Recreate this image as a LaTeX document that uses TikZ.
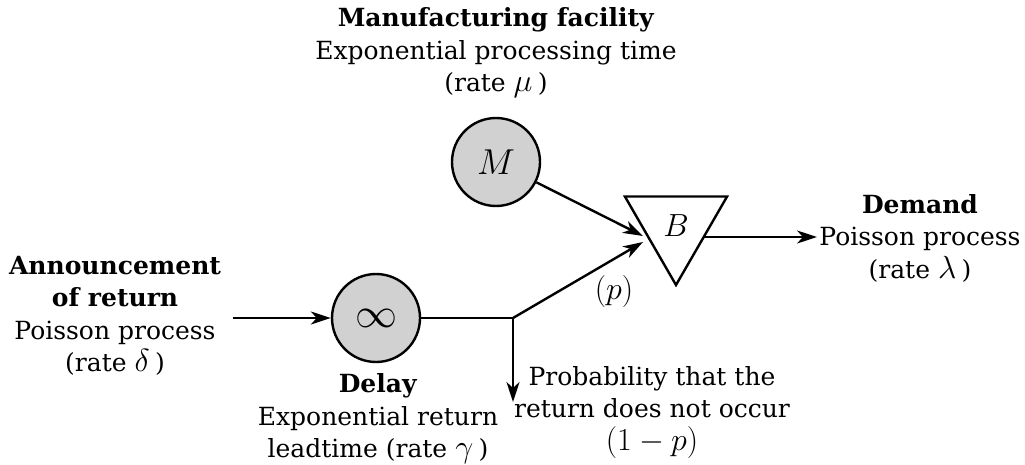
\RequirePackage{fix-cm}
\documentclass[tikz,border=0pt]{standalone}
\usepackage{fontspec}
\setmainfont{DejaVu Serif}
\usetikzlibrary{arrows.meta,shapes.geometric}
\newcommand\mymath[1]{{\fontsize{32}{32.5}\selectfont$#1$}}
\tikzset{
  txt/.style={align=center,inner sep=0pt,font=\fontsize{25}{32.5}\selectfont},
  station/.style={circle,draw,line width=2.4pt,fill=black!18,minimum size=88pt,inner sep=0pt},
  conn/.style={line width=2.4pt},
  arr/.style={conn,-{Stealth[length=20pt,width=13pt,inset=6pt]}},
}
\begin{document}
\begin{tikzpicture}[x=1pt,y=-1pt]
\useasboundingbox (0,0) rectangle (1025,465);
% stations
\node[station,font=\fontsize{36}{40}\selectfont] (M) at (496,162) {$M$};
\node[station,font=\fontsize{42}{44}\selectfont] (inf) at (376,318) {$\infty$};
\node[regular polygon,regular polygon sides=3,shape border rotate=180,draw,line width=2.4pt,minimum size=118pt,inner sep=0pt] (B) at (676,226) {};
\node[font=\fontsize{32}{40}\selectfont] (Blab) at (676,226) {$B$};
% coordinates
\coordinate (inA) at (233,318);
\coordinate (br) at (513,318);
\coordinate (down) at (513,402);
\coordinate (bin1) at (643,236);
\coordinate (bin2) at (643,242);
\coordinate (bout) at (703,237);
\coordinate (dem) at (817,237);
% connectors
\draw[arr] (inA) -- (inf);
\draw[conn] (inf) -- (br);
\draw[arr] (br) -- (bin2);
\draw[arr] (br) -- (down);
\draw[arr] (M) -- (bin1);
\draw[arr] (bout) -- (dem);
% texts
\node[txt] (tM) at (496,53) {\textbf{Manufacturing facility}\\Exponential processing time\\(rate \mymath{\mu\,})};
\node[txt] (tA) at (115,316) {\textbf{Announcement}\\\textbf{of return}\\Poisson process\\(rate \mymath{\delta\,})};
\node[txt] (tD) at (378,419) {\textbf{Delay}\\Exponential return\\leadtime (rate \mymath{\gamma\,})};
\node[txt] (tP) at (652,412) {Probability that the\\return does not occur\\\mymath{(1-p)}};
\node[txt] (tL) at (920,238) {\textbf{Demand}\\Poisson process\\(rate \mymath{\lambda\,})};
\node[font=\fontsize{32}{40}\selectfont,inner sep=0pt] (tp) at (614,292) {$(p)$};
\end{tikzpicture}
\end{document}
